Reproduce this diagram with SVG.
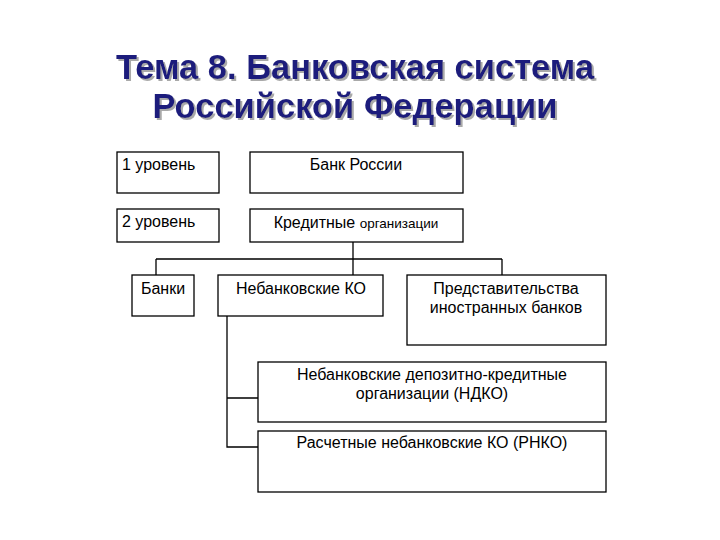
<svg xmlns="http://www.w3.org/2000/svg" width="720" height="540" viewBox="0 0 720 540">
<defs>
<style>
.bx{fill:#fff;stroke:#000;stroke-width:1.3}
.ln{fill:none;stroke:#000;stroke-width:1.3}
.t{font-family:"Liberation Sans",Arial,sans-serif;font-size:16px;fill:#000}
.s{font-size:13.5px}
.c{text-anchor:middle}
.ttl{font-family:"Liberation Sans",Arial,sans-serif;font-size:34.5px;font-weight:bold;text-anchor:middle;fill:#1c1c7c;filter:url(#sh)}
</style>
<filter id="sh" x="-5%" y="-20%" width="110%" height="150%">
<feDropShadow dx="2" dy="2" stdDeviation="0.6" flood-color="#a0a0a0" flood-opacity="0.9"/>
</filter>
</defs>
<rect width="720" height="540" fill="#fff"/>
<g id="title">
<text class="ttl" x="355" y="79">Тема 8. Банковская система</text>
<text class="ttl" x="355" y="118">Российской Федерации</text>
</g>
<g id="connectors">
<path class="ln" d="M353 242V275M156 259H502M156 259V275M502 259V275"/>
<path class="ln" d="M227 316V447H258M227 398H258"/>
</g>
<g id="level1"><rect class="bx" x="117" y="152" width="102" height="41"/><text class="t" x="122" y="170">1 уровень</text></g>
<g id="bank-russia"><rect class="bx" x="250" y="152" width="213" height="41"/><text class="t c" x="356" y="170">Банк России</text></g>
<g id="level2"><rect class="bx" x="117" y="209" width="102" height="33"/><text class="t" x="122" y="227">2 уровень</text></g>
<g id="credit-org"><rect class="bx" x="250" y="209" width="213" height="33"/><text class="t c" x="356" y="228">Кредитные <tspan class="s">организации</tspan></text></g>
<g id="banks"><rect class="bx" x="132" y="275" width="62" height="41"/><text class="t c" x="163" y="294">Банки</text></g>
<g id="nonbank-ko"><rect class="bx" x="218" y="275" width="165" height="41"/><text class="t c" x="301" y="294">Небанковские КО</text></g>
<g id="foreign"><rect class="bx" x="407" y="275" width="199" height="70"/><text class="t c" x="506" y="294">Представительства</text><text class="t c" x="506" y="313">иностранных банков</text></g>
<g id="ndko"><rect class="bx" x="258" y="362" width="348" height="60"/><text class="t c" x="432" y="380">Небанковские депозитно-кредитные</text><text class="t c" x="432" y="399">организации (НДКО)</text></g>
<g id="rnko"><rect class="bx" x="258" y="431" width="348" height="61"/><text class="t c" x="432" y="448">Расчетные небанковские КО (РНКО)</text></g>
</svg>
